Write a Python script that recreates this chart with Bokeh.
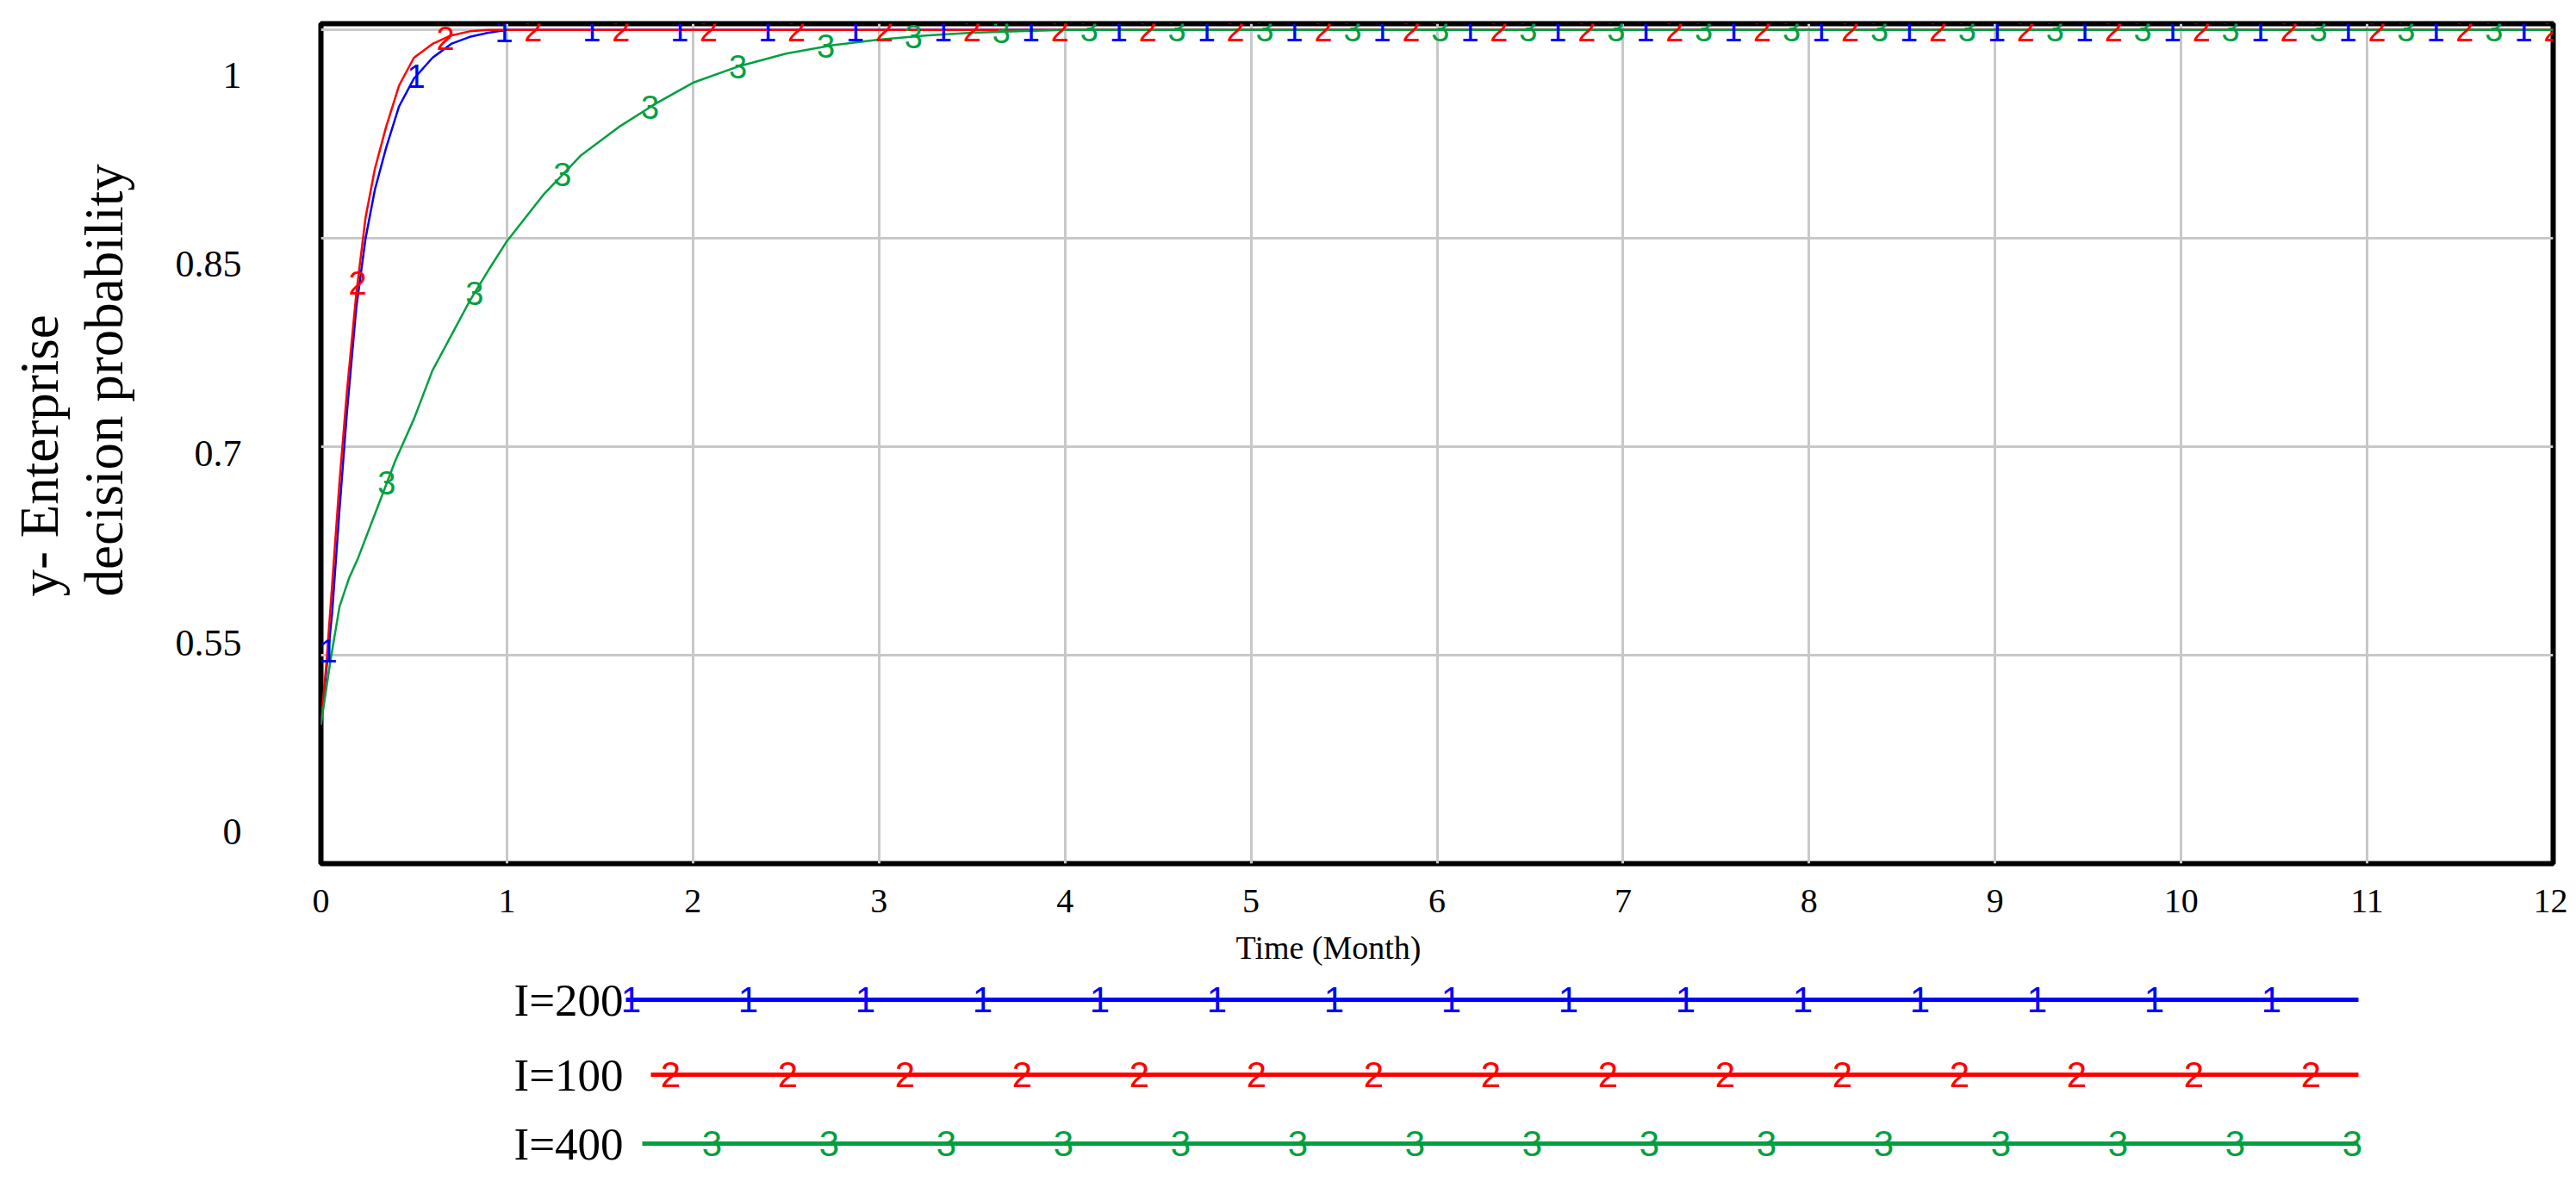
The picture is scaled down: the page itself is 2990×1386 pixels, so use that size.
import numpy as np
from bokeh.plotting import figure
from bokeh.models import ColumnDataSource, LabelSet, FixedTicker, Title, Range1d
from bokeh.layouts import column
from bokeh.embed import file_html
from bokeh.resources import INLINE
from bokeh.core.properties import value

# ---------------- data ----------------
t_i200 = [0, 0.03, 0.06, 0.10, 0.14, 0.19, 0.24, 0.29, 0.35, 0.42, 0.50, 0.60, 0.70, 0.80, 0.90, 1.00, 12.0]
y_i200 = [0.50, 0.54, 0.58, 0.655, 0.725, 0.80, 0.85, 0.885, 0.915, 0.945, 0.965, 0.98, 0.99, 0.995, 0.998, 1.0, 1.0]

t_i100 = [0, 0.03, 0.06, 0.10, 0.14, 0.19, 0.24, 0.29, 0.35, 0.42, 0.50, 0.60, 0.70, 0.80, 0.90, 12.0]
y_i100 = [0.50, 0.545, 0.60, 0.675, 0.74, 0.81, 0.865, 0.90, 0.93, 0.96, 0.98, 0.99, 0.996, 0.999, 1.0, 1.0]

t_i400 = [0, 0.05, 0.10, 0.15, 0.20, 0.30, 0.40, 0.50, 0.60, 0.70, 0.80, 0.90, 1.00, 1.20, 1.40,
          1.60, 1.80, 2.00, 2.25, 2.50, 2.75, 3.00, 3.25, 3.50, 3.75, 4.00, 12.0]
y_i400 = [0.50, 0.545, 0.585, 0.605, 0.62, 0.655, 0.69, 0.72, 0.755, 0.78, 0.805, 0.827, 0.848, 0.882, 0.91,
          0.93, 0.947, 0.962, 0.974, 0.983, 0.989, 0.993, 0.996, 0.998, 0.999, 1.0, 1.0]

series_labels = ["I=200", "I=100", "I=400"]
series_marks = ["1", "2", "3"]
series_t = [t_i200, t_i100, t_i400]
series_y = [y_i200, y_i100, y_i400]

x_ticks = list(range(0, 13))
x_tick_labels = [str(v) for v in x_ticks]
y_grid_values = [0.4, 0.55, 0.7, 0.85, 1.0]
y_tick_labels = ["0", "0.55", "0.7", "0.85", "1"]
y_title_lines = ["y-  Enterprise", "decision probability"]
x_title = "Time (Month)"

# ---------------- style ----------------
colors = ["#0000FF", "#FF0000", "#00A040"]
SERIF = "Liberation Serif"
MARK_FONT = "Liberation Sans"
Y_MIN, Y_MAX = 0.4, 1.0045
# Vensim draws the value labels slightly inset from the grid lines
LABEL_SHRINK, LABEL_BASE = 0.908, 0.0228
MARK_SPACING = 0.472
MARK_PHASES = [0.04, 0.197, 0.354]

FRAME_W, FRAME_H = 2591, 975
BORDER_L, BORDER_R, BORDER_T, BORDER_B = 372, 17, 27, 115

main = figure(frame_width=FRAME_W, frame_height=FRAME_H,
              x_range=Range1d(0, 12), y_range=Range1d(Y_MIN, Y_MAX),
              output_backend="svg", toolbar_location=None,
              min_border_left=BORDER_L, min_border_right=BORDER_R,
              min_border_top=BORDER_T, min_border_bottom=BORDER_B)
main.outline_line_color = "black"
main.outline_line_width = 6
main.background_fill_color = "white"

main.xgrid.ticker = FixedTicker(ticks=x_ticks)
main.ygrid.ticker = FixedTicker(ticks=y_grid_values)
for g in (main.xgrid, main.ygrid):
    g.grid_line_color = "#C8C8C8"
    g.grid_line_width = 3

label_pos = [round(0.4 + LABEL_BASE + (v - 0.4) * LABEL_SHRINK, 5) for v in y_grid_values]
main.yaxis.ticker = FixedTicker(ticks=label_pos)
main.yaxis.major_label_overrides = {p: s for p, s in zip(label_pos, y_tick_labels)}
main.xaxis.ticker = FixedTicker(ticks=x_ticks)
main.xaxis.major_label_overrides = {v: s for v, s in zip(x_ticks, x_tick_labels)}

for ax in (main.xaxis, main.yaxis):
    ax.axis_line_color = None
    ax.major_tick_line_color = None
    ax.minor_tick_line_color = None
    ax.major_tick_out = 0
    ax.major_tick_in = 0
    ax.major_label_text_font = SERIF
    ax.major_label_text_color = "black"
main.xaxis.major_label_text_font_size = "40px"
main.xaxis.major_label_standoff = 30
main.yaxis.major_label_text_font_size = "44px"
main.yaxis.major_label_standoff = 92

for t, y, c, mk, ph in zip(series_t, series_y, colors, series_marks, MARK_PHASES):
    main.line(t, y, line_color=c, line_width=2.5)
    mt = np.arange(ph, 12.0, MARK_SPACING)
    my = np.interp(mt, t, y)
    src = ColumnDataSource(dict(x=mt, y=my, text=[mk] * len(mt)))
    main.add_layout(LabelSet(x="x", y="y", text="text", source=src, text_color=c,
                             text_font=value(MARK_FONT), text_font_size="38px",
                             text_align="center", text_baseline="middle"))

main.add_layout(Title(text=x_title, align="left", offset=1062, standoff=30,
                      text_font=SERIF, text_font_size="38px", text_font_style="normal",
                      text_color="black"), "below")

# two-line vertical y title (inner line first, outer line second)
title_standoff = [-84, 90]
for txt, so in reversed(list(zip(y_title_lines, title_standoff))):
    main.add_layout(Title(text=txt, align="left", offset=310, standoff=so,
                          text_font=SERIF, text_font_size="63px", text_font_style="normal",
                          text_color="black"), "left")

# ---------------- legend strip (coordinates = pixels of the strip) ----------------
LEG_H = 238
leg = figure(frame_width=FRAME_W, frame_height=LEG_H,
             x_range=Range1d(BORDER_L, BORDER_L + FRAME_W), y_range=Range1d(0, LEG_H),
             output_backend="svg", toolbar_location=None,
             min_border_left=BORDER_L, min_border_right=BORDER_R,
             min_border_top=0, min_border_bottom=0,
             x_axis_location=None, y_axis_location=None)
leg.grid.visible = False
leg.outline_line_color = None

row_y = [213, 126, 46]
line_start = [726, 755, 745]
line_end = 2737
mark_start = [732, 778, 826]
mark_step = 136
text_x = 596
for i in range(3):
    leg.line([line_start[i], line_end], [row_y[i], row_y[i]], line_color=colors[i], line_width=5)
    mx = [mark_start[i] + k * mark_step for k in range(15)]
    leg.text(x=mx, y=[row_y[i]] * len(mx), text=[series_marks[i]] * len(mx),
             text_color=colors[i], text_font=value(MARK_FONT), text_font_size="42px",
             text_align="center", text_baseline="middle")
    leg.text(x=[text_x], y=[row_y[i]], text=[series_labels[i]], text_color="black",
             text_font=value(SERIF), text_font_size="53px",
             text_align="left", text_baseline="middle")

layout = column(main, leg)
open("out.html", "w").write(file_html(layout, INLINE))
